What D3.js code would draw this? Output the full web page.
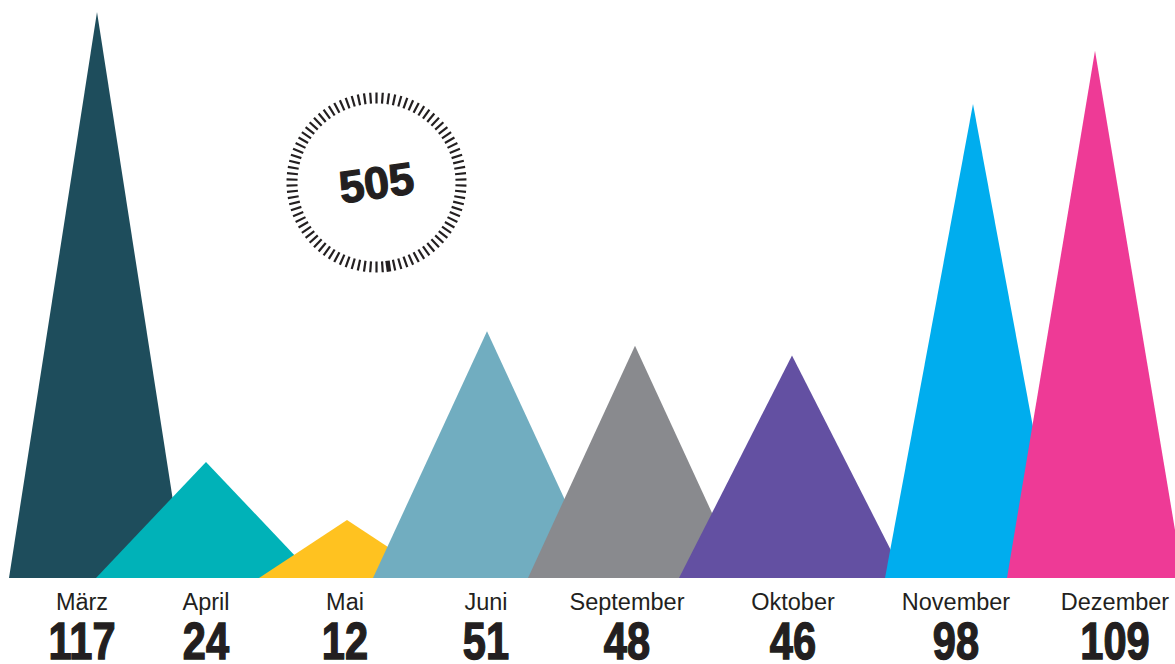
<!DOCTYPE html>
<html lang="de">
<head>
  <meta charset="UTF-8">
  <title>Monate</title>
  <script src="https://d3js.org/d3.v7.min.js"></script>
  <style>
    body { margin: 0; background: #fff; }
    .month { font: 23.5px "Liberation Sans", Arial, sans-serif; fill: #231f20; }
    .value { font: bold 52px "Liberation Sans", Arial, sans-serif; fill: #231f20; stroke: #231f20; stroke-width: 1.4px; }
    .total { font: bold 45px "Liberation Sans", Arial, sans-serif; fill: #231f20; stroke: #231f20; stroke-width: 1.2px; }
  </style>
</head>
<body>
  <svg id="chart" width="1175" height="664"></svg>
  <script>
    // data
    const months = ['März', 'April', 'Mai', 'Juni', 'September', 'Oktober', 'November', 'Dezember'];
    const values = [117, 24, 12, 51, 48, 46, 98, 109];
    const colors = ['#1e4d5c', '#00b2b8', '#ffc220', '#71adc0', '#898a8e', '#6350a2', '#00adee', '#ee3a96'];

    // layout (peak x, half base width, label x) - the original is hand placed
    const peakX = [97, 206, 347, 487, 635, 792, 973, 1095];
    const halfW = [88, 110, 88, 114, 107, 113, 88, 88];
    const labelX = [82, 206, 345, 486, 627, 793, 956, 1115];

    const width = 1175;
    const height = 664;
    const baseY = 578;

    const svg = d3.select('#chart');

    const y = d3.scaleLinear().domain([0, 117]).range([baseY, 12]);
    const xPeak = d3.scaleOrdinal().domain(months).range(peakX);
    const xHalf = d3.scaleOrdinal().domain(months).range(halfW);
    const xLabel = d3.scaleOrdinal().domain(months).range(labelX);
    const color = d3.scaleOrdinal().domain(months).range(colors);

    const rows = months.map((m, i) => ({ month: m, value: values[i] }));

    const line = d3.line();

    svg.append('g')
      .selectAll('path')
      .data(rows)
      .enter().append('path')
      .attr('d', d => {
        const cx = xPeak(d.month), hw = xHalf(d.month);
        return line([[cx - hw, baseY], [cx, y(d.value)], [cx + hw, baseY]]) + 'Z';
      })
      .attr('fill', d => color(d.month));

    svg.append('g')
      .selectAll('text')
      .data(rows)
      .enter().append('text')
      .attr('class', 'month')
      .attr('x', d => xLabel(d.month))
      .attr('y', 610)
      .attr('text-anchor', 'middle')
      .text(d => d.month);

    // big numbers, squeezed to look condensed
    svg.append('g')
      .selectAll('g')
      .data(rows)
      .enter().append('g')
      .attr('transform', d => `translate(${xLabel(d.month)},659) scale(0.8,1)`)
      .append('text')
      .attr('class', 'value')
      .attr('text-anchor', 'middle')
      .text(d => d.value);

    // total dial
    const dial = svg.append('g')
      .attr('transform', 'translate(376.5,182.5) rotate(-8)');

    const nTicks = 90;
    const ang = d3.range(nTicks).map(i => i * 2 * Math.PI / nTicks);
    const rIn = 79, rOut = 90;

    dial.selectAll('line')
      .data(ang)
      .enter().append('line')
      .attr('x1', a => rIn * Math.sin(a))
      .attr('y1', a => rIn * Math.cos(a))
      .attr('x2', a => rOut * Math.sin(a))
      .attr('y2', a => rOut * Math.cos(a))
      .attr('stroke', '#231f20')
      .attr('stroke-width', (a, i) => i === 0 ? 4.5 : 2.2);

    dial.append('text')
      .attr('class', 'total')
      .attr('text-anchor', 'middle')
      .attr('y', 16)
      .text(d3.sum(values));
  </script>
</body>
</html>
